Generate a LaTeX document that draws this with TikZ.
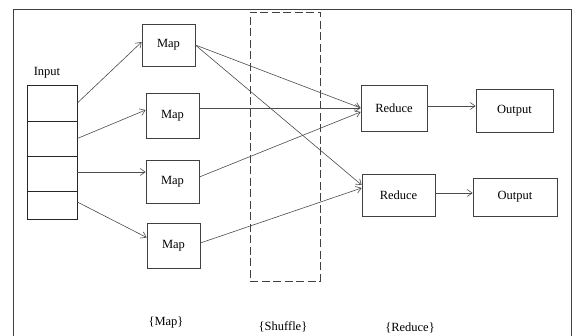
\documentclass[tikz,border=0pt]{standalone}
\usepackage{fontspec}
\setmainfont{Liberation Serif}
\usetikzlibrary{arrows.meta}
\tikzset{
  box/.style={draw=black!75, line width=0.7pt, inner sep=0pt, font=\fontsize{12.5}{13}\selectfont},
  cell/.style={draw=black!85, line width=0.7pt, minimum width=50pt, inner sep=0pt},
  arr/.style={draw=black!70, line width=0.6pt, -{Straight Barb[length=5pt,width=7pt]}},
  lbl/.style={font=\fontsize{12.5}{13}\selectfont, inner sep=0pt}
}
\begin{document}
\begin{tikzpicture}[x=1pt,y=-1pt]
\useasboundingbox (0,0) rectangle (573,336);
\fill[white] (0,0) rectangle (573,336);
% frame
\draw[black!75, line width=1pt] (13.3,336) -- (13.3,9.3) -- (571.5,9.3) -- (571.5,336);
% shuffle dashed region
\node[draw=black!75, line width=0.7pt, dash pattern=on 8pt off 3.5pt, minimum width=70pt, minimum height=269pt, inner sep=0pt] (shuf) at (285,146.5) {};
% input stack
\node[lbl] (inlbl) at (47,73) {Input};
\node[cell, minimum height=36pt] (c1) at (52,103) {};
\node[cell, minimum height=35pt] (c2) at (52,138.5) {};
\node[cell, minimum height=35pt] (c3) at (52,173.5) {};
\node[cell, minimum height=28pt] (c4) at (52,205) {};
% maps
\node[box, minimum width=53pt, minimum height=42pt] (m1) at (168.5,45) {Map};
\node[box, minimum width=53pt, minimum height=45pt] (m2) at (172.5,115.5) {Map};
\node[box, minimum width=53pt, minimum height=43pt] (m3) at (172.5,181.5) {Map};
\node[box, minimum width=53pt, minimum height=45pt] (m4) at (173.5,245.5) {Map};
% reduces
\node[box, minimum width=66pt, minimum height=46pt] (r1) at (394,108) {Reduce};
\node[box, minimum width=73pt, minimum height=42pt] (r2) at (398.5,195) {Reduce};
% outputs
\node[box, minimum width=77pt, minimum height=43pt] (o1) at (514.5,110.5) {Output};
\node[box, minimum width=84pt, minimum height=38pt] (o2) at (515,197) {Output};
% input -> map
\draw[arr] (c1.east) -- ([yshift=3pt]m1.west);
\draw[arr] (c2.east) -- ([yshift=5.5pt]m2.west);
\draw[arr] ([yshift=1.5pt]c3.east) -- ([yshift=9.5pt]m3.west);
\draw[arr] ([yshift=3pt]c4.east) -- ([yshift=8pt]m4.west);
% map -> reduce
\draw[arr] (m1.east) -- (r1.west);
\draw[arr] (m1.east) -- ([yshift=10pt]r2.west);
\draw[arr] ([yshift=7.5pt]m2.east) -- (r1.west);
\draw[arr] ([yshift=4.5pt]m3.east) -- ([yshift=-4pt]r1.west);
\draw[arr] ([yshift=2.5pt]m4.east) -- ([yshift=7pt]r2.west);
% reduce -> output
\draw[arr] ([yshift=2pt]r1.east) -- ([yshift=4.5pt]o1.west);
\draw[arr] ([yshift=2pt]r2.east) -- ([yshift=4pt]o2.west);
% phase labels
\node[lbl] (pm) at (166,322) {\{Map\}};
\node[lbl] (ps) at (283,327) {\{Shuffle\}};
\node[lbl] (pr) at (410,328) {\{Reduce\}};
\end{tikzpicture}
\end{document}
